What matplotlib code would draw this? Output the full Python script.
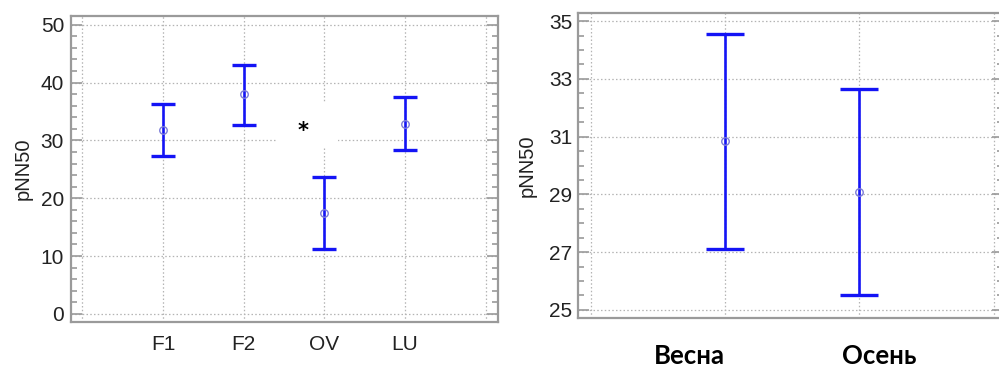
import matplotlib
matplotlib.use("Agg")
import matplotlib.pyplot as plt
from matplotlib.patches import Rectangle
from matplotlib.ticker import MultipleLocator, FixedLocator

# ---- data ----
groups = ["F1", "F2", "OV", "LU"]
group_mean = [31.8, 38.0, 17.5, 32.8]
group_low = [27.3, 32.6, 11.2, 28.3]
group_high = [36.3, 43.0, 23.6, 37.5]

seasons = ["Весна", "Осень"]
season_mean = [30.85, 29.1]
season_low = [27.1, 25.5]
season_high = [34.55, 32.65]
season_yticks = [25, 27, 29, 31, 33, 35]

ylabel = "pNN50"
star_text = "*"

BLUE = "#1414f5"
MARK = "#7c7cd8"
SPINE = "#9a9a9a"
GRID = "#b4b4b4"
TXT = "#222222"

plt.rcParams["font.family"] = ["Liberation Sans", "DejaVu Sans"]

W, H = 999, 368
fig = plt.figure(figsize=(W / 100, H / 100), dpi=100)


def px_axes(x0, y0, x1, y1):
    return fig.add_axes([x0 / W, 1 - y1 / H, (x1 - x0) / W, (y1 - y0) / H])


def style(ax, capfs):
    for s in ax.spines.values():
        s.set_color(SPINE)
        s.set_linewidth(1.6)
    ax.tick_params(axis="y", which="both", direction="in", left=True, right=True,
                   color=SPINE, width=1.2, labelsize=capfs, labelcolor=TXT)
    ax.tick_params(axis="y", which="major", length=8)
    ax.tick_params(axis="y", which="minor", length=4)
    ax.tick_params(axis="x", which="both", length=0, labelsize=capfs, labelcolor=TXT, pad=9)
    ax.grid(True, which="major", linestyle=(0, (1.2, 1.8)), color=GRID, linewidth=0.9)
    ax.set_axisbelow(True)


# ---- left panel ----
ax1 = px_axes(71, 16, 498, 322)
xs1 = list(range(1, len(groups) + 1))
err1 = [[m - l for m, l in zip(group_mean, group_low)],
        [h - m for m, h in zip(group_mean, group_high)]]
ax1.errorbar(xs1, group_mean, yerr=err1, fmt="none", ecolor=BLUE, elinewidth=1.9,
             capsize=8.5, capthick=2.4, zorder=3)
ax1.plot(xs1, group_mean, "o", ms=5.4, mfc="none", mec=MARK, mew=1.0, zorder=4)
ax1.set_xlim(-0.14, 5.153)
ax1.set_ylim(-1.4, 51.5)
ax1.yaxis.set_major_locator(MultipleLocator(10))
ax1.yaxis.set_minor_locator(MultipleLocator(2))
style(ax1, 15)
ax1.set_xticks(range(0, len(groups) + 2))
ax1.set_xticklabels([""] + groups + [""])
ax1.set_ylabel(ylabel, fontsize=14.5, color=TXT)
ax1.yaxis.set_label_coords(-0.089, 0.5)
ax1.tick_params(axis="y", pad=5)
ax1.add_patch(Rectangle((2.41, 28.9), 0.76, 7.75, facecolor="white",
                        edgecolor="none", zorder=2))
ax1.text(2.74, 31.6, star_text, fontsize=15, fontweight="bold", color="black",
         ha="center", va="center", family="DejaVu Sans", zorder=5)

# ---- right panel ----
ax2 = px_axes(577.7, 13.3, 1003, 318.3)
xs2 = list(range(1, len(seasons) + 1))
err2 = [[m - l for m, l in zip(season_mean, season_low)],
        [h - m for m, h in zip(season_mean, season_high)]]
ax2.errorbar(xs2, season_mean, yerr=err2, fmt="none", ecolor=BLUE, elinewidth=1.9,
             capsize=13.5, capthick=2.4, zorder=3)
ax2.plot(xs2, season_mean, "o", ms=5.4, mfc="none", mec=MARK, mew=1.0, zorder=4)
ax2.set_xlim(-0.097, 3.07)
ax2.set_ylim(24.71, 35.27)
ax2.yaxis.set_major_locator(FixedLocator(season_yticks))
ax2.yaxis.set_minor_locator(MultipleLocator(0.5))
style(ax2, 15)
ax2.set_xticks(range(0, len(seasons) + 2))
ax2.set_xticklabels([""] * (len(seasons) + 2))
ax2.set_ylabel(ylabel, fontsize=14.5, color=TXT)
ax2.yaxis.set_label_coords(-0.097, 0.5)
ax2.tick_params(axis="y", pad=4)

# season names below the right panel
season_label_x = [689, 879]
for name, xc in zip(seasons, season_label_x):
    fig.text(xc / W, 1 - 364 / H, name, ha="center", va="baseline",
             fontsize=18.5, fontweight="bold", color="black",
             family=["Lato", "Open Sans", "DejaVu Sans"])

fig.savefig("out.png", dpi=100)
